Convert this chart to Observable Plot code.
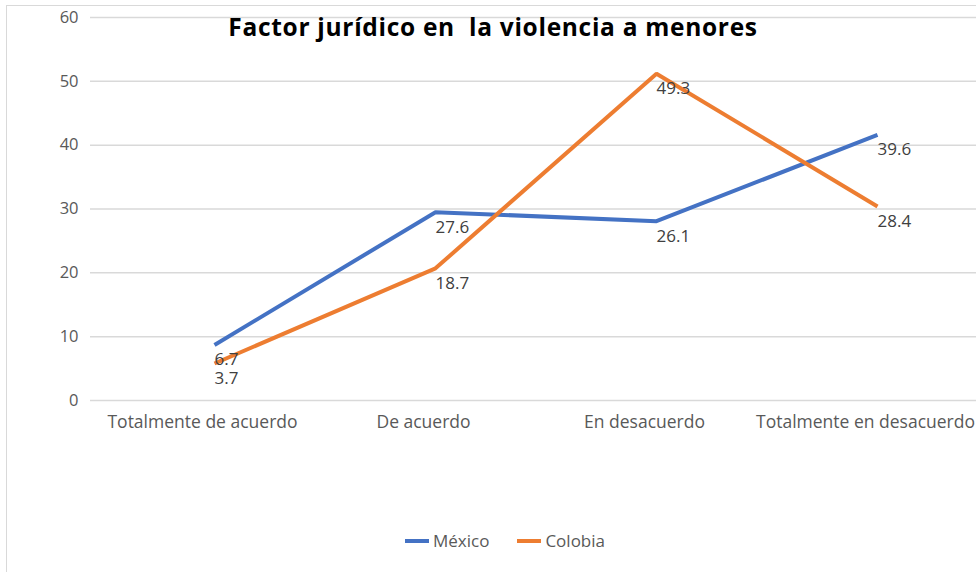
<!DOCTYPE html>
<html>
<head>
<meta charset="utf-8">
<script src="https://cdn.jsdelivr.net/npm/d3@7"></script>
<script src="https://cdn.jsdelivr.net/npm/@observablehq/plot@0.6"></script>
<style>
  html, body { margin: 0; padding: 0; background: #fff; }
  #wrap { position: relative; width: 976px; height: 572px; overflow: hidden; font-family: "Open Sans", sans-serif; }
  #frame { position: absolute; left: 6px; top: 5px; width: 1000px; height: 1000px; border-left: 1px solid #d9d9d9; border-top: 1px solid #d9d9d9; }
  #title { position: absolute; left: 0; width: 986px; top: 10px; text-align: center; font-family: "Open Sans", sans-serif; font-weight: 700; font-size: 24.5px; letter-spacing: 0.7px; color: #000; }
  #legend { position: absolute; top: 529px; left: 0; width: 1010px; text-align: center; font-size: 17px; color: #595959; }
  .item { display: inline-block; margin: 0 14px; }
  .sw { display: inline-block; width: 24px; height: 4px; vertical-align: middle; margin-right: 4px; position: relative; top: -1px; }
  #chart { position: absolute; left: 0; top: 0; }
</style>
</head>
<body>
<div id="wrap">
  <div id="frame"></div>
  <div id="chart"></div>
  <div id="title">Factor jurídico en&nbsp; la violencia a menores</div>
  <div id="legend"></div>
</div>
<script>
const categories = ["Totalmente de acuerdo", "De acuerdo", "En desacuerdo", "Totalmente en desacuerdo"];
const seriesNames = ["México", "Colobia"];
const colors = ["#4472C4", "#ED7D31"];
// plotted positions
const mexicoValues = [8.7, 29.5, 28.1, 41.6];
const colombiaValues = [5.8, 20.7, 51.2, 30.4];
// data label texts as printed in the picture
const mexicoLabels = ["6.7", "27.6", "26.1", "39.6"];
const colombiaLabels = ["3.7", "18.7", "49.3", "28.4"];
const yTicks = [0, 10, 20, 30, 40, 50, 60];

const data = [];
categories.forEach((c, i) => {
  data.push({cat: c, series: seriesNames[0], value: mexicoValues[i], label: mexicoLabels[i]});
});
categories.forEach((c, i) => {
  data.push({cat: c, series: seriesNames[1], value: colombiaValues[i], label: colombiaLabels[i]});
});

const chart = Plot.plot({
  width: 976,
  height: 572,
  marginLeft: 90,
  marginRight: 0,
  marginTop: 17,
  marginBottom: 172,
  style: {fontFamily: "Open Sans, sans-serif", background: "transparent"},
  x: {type: "point", domain: categories, padding: 0, insetLeft: 123, insetRight: 98},
  y: {domain: [0, 60]},
  color: {domain: seriesNames, range: colors},
  marks: [
    Plot.ruleY(yTicks, {stroke: "#d9d9d9", strokeWidth: 1.5}),
    Plot.axisY({ticks: yTicks, tickSize: 0, tickPadding: 12, fontSize: 16.5, fill: "#595959", label: null}),
    Plot.axisX({tickSize: 0, tickPadding: 15, fontSize: 17.5, fill: "#595959", label: null, dx: -12}),
    Plot.line(data, {x: "cat", y: "value", z: "series", stroke: "series", strokeWidth: 4, strokeLinejoin: "miter", strokeLinecap: "butt"}),
    Plot.text(data, {x: "cat", y: "value", text: "label", textAnchor: "start", dy: 15, fontSize: 17, fill: "#404040"})
  ]
});
document.getElementById("chart").appendChild(chart);

const legend = document.getElementById("legend");
seriesNames.forEach((s, i) => {
  const item = document.createElement("span");
  item.className = "item";
  const sw = document.createElement("span");
  sw.className = "sw";
  sw.style.background = colors[i];
  item.appendChild(sw);
  item.appendChild(document.createTextNode(s));
  legend.appendChild(item);
});
</script>
</body>
</html>
